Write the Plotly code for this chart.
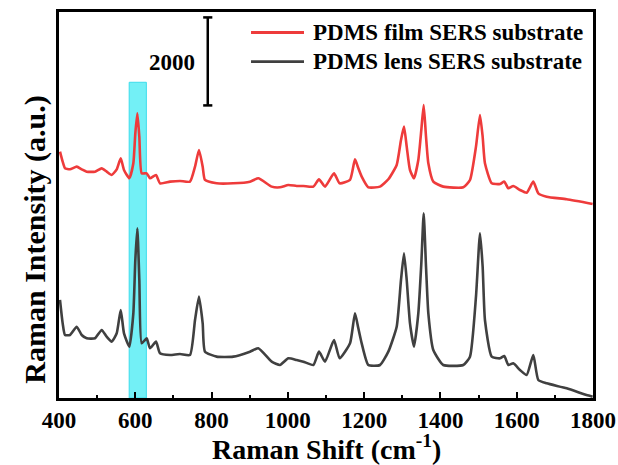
import plotly.graph_objects as go

# ---------------- data ----------------
film_shift = [402.6, 409.6, 415.7, 428.8, 446.4, 459.5, 472.6, 494.4, 511.9, 525.0,
              538.2, 551.3, 561.8, 570.4, 584.4, 594.9, 600.1, 605.4, 610.6, 616.8,
              629.9, 638.6, 654.3, 664.8, 691.0, 717.2, 743.4, 756.6, 767.0, 776.7,
              782.8, 813.4, 857.0, 900.7, 922.5, 957.6, 979.4, 1001.3, 1023.1, 1040.6,
              1066.8, 1081.6, 1097.4, 1121.0, 1135.7, 1163.0, 1176.0, 1184.8, 1193.6, 1211.0,
              1241.6, 1263.4, 1285.3, 1296.6, 1304.5, 1311.6, 1320.2, 1330.7, 1342.0, 1349.9,
              1356.1, 1362.2, 1368.3, 1381.3, 1407.5, 1460.0, 1477.5, 1493.2, 1503.7, 1510.7,
              1516.7, 1534.4, 1556.2, 1567.5, 1577.9, 1591.0, 1608.6, 1626.1, 1643.5, 1656.6,
              1678.5, 1731.0, 1799.0]
film_intensity = [5599, 5371, 5220, 5198, 5258, 5198, 5144, 5144, 5220, 5144,
                  5069, 5198, 5448, 5182, 4993, 5334, 6016, 6471, 5940, 5107,
                  5107, 4993, 5069, 4880, 4917, 4933, 4917, 5258, 5637, 5258,
                  4955, 4880, 4880, 4917, 4993, 4804, 4789, 4842, 4819, 4819,
                  4804, 4971, 4804, 5107, 4880, 4960, 5425, 5220, 5031, 4789,
                  4804, 4971, 5296, 5864, 6168, 5713, 5182, 4993, 5410, 6092,
                  6660, 5940, 5334, 4917, 4804, 4789, 4955, 5713, 6433, 5940,
                  5334, 4880, 4865, 4917, 4766, 4819, 4728, 4667, 4917, 4652,
                  4576, 4516, 4410]

lens_shift = [402.6, 409.6, 415.7, 428.8, 446.4, 459.5, 472.6, 494.4, 511.9, 525.0,
              538.2, 551.3, 561.8, 570.4, 584.4, 594.9, 600.1, 605.4, 610.6, 616.8,
              629.9, 638.6, 654.3, 664.8, 691.0, 717.2, 743.4, 756.6, 767.0, 776.7,
              782.8, 813.4, 857.0, 900.7, 922.5, 957.6, 979.4, 1001.3, 1023.1, 1040.6,
              1066.8, 1081.6, 1097.4, 1121.0, 1135.7, 1163.0, 1176.0, 1184.8, 1193.6, 1211.0,
              1241.6, 1263.4, 1285.3, 1296.6, 1304.5, 1311.6, 1320.2, 1330.7, 1342.0, 1349.9,
              1356.1, 1362.2, 1368.3, 1381.3, 1407.5, 1460.0, 1477.5, 1493.2, 1503.7, 1510.7,
              1516.7, 1534.4, 1556.2, 1567.5, 1577.9, 1591.0, 1608.6, 1626.1, 1643.5, 1656.6,
              1678.5, 1731.0, 1783.0, 1799.0]
lens_intensity = [2228, 1697, 1432, 1432, 1621, 1432, 1357, 1357, 1546, 1394,
                  1281, 1470, 2000, 1470, 1167, 1925, 3137, 3857, 2682, 1243,
                  1357, 1129, 1281, 1015, 977, 1000, 977, 1773, 2303, 1697,
                  1053, 940, 940, 1053, 1129, 826, 750, 902, 864, 826,
                  750, 1053, 826, 1318, 902, 1243, 1925, 1584, 1243, 750,
                  750, 1053, 1621, 2682, 3289, 2682, 1697, 1167, 1925, 3061,
                  4198, 2985, 1925, 1091, 750, 750, 940, 2303, 3743, 2985,
                  1773, 940, 902, 955, 750, 788, 636, 523, 977, 409,
                  333, 220, 68, 30]

series_names = ["PDMS film SERS substrate", "PDMS lens SERS substrate"]
series_colors = ["#EE3B3B", "#404040"]

x_ticks = [400, 600, 800, 1000, 1200, 1400, 1600, 1800]
x_range = [400, 1800]
y_range = [0, 8773]

band_range = [584, 629]   # highlighted band (cm-1)
band_top = 7176
scale_bar_value = 2000
scale_bar_x = 790
scale_bar_bottom = 6650

FONT = "Liberation Serif"

fig = go.Figure()
fig.add_trace(go.Scatter(x=film_shift, y=film_intensity, mode="lines",
                         name=series_names[0], showlegend=False,
                         line=dict(color=series_colors[0], width=2.6, shape="spline", smoothing=0.5)))
fig.add_trace(go.Scatter(x=lens_shift, y=lens_intensity, mode="lines",
                         name=series_names[1], showlegend=False,
                         line=dict(color=series_colors[1], width=2.6, shape="spline", smoothing=0.5)))

shapes = []
# cyan band
shapes.append(dict(type="rect", xref="x", yref="y", x0=band_range[0], x1=band_range[1],
                   y0=y_range[0], y1=band_top, layer="below",
                   fillcolor="rgba(100,238,245,0.9)", line=dict(color="rgba(60,220,235,1)", width=1)))
# scale bar
sb_top = scale_bar_bottom + scale_bar_value
shapes.append(dict(type="line", xref="x", yref="y", x0=scale_bar_x, x1=scale_bar_x,
                   y0=scale_bar_bottom, y1=sb_top, line=dict(color="black", width=2.5)))
for yy in (scale_bar_bottom, sb_top):
    shapes.append(dict(type="line", xref="x", yref="y", x0=scale_bar_x - 12, x1=scale_bar_x + 12,
                       y0=yy, y1=yy, line=dict(color="black", width=2.5)))
# manual legend lines
leg_y = [0.9469, 0.8712]
for c, ly in zip(series_colors, leg_y):
    shapes.append(dict(type="line", xref="paper", yref="paper", x0=0.3596, x1=0.4588,
                       y0=ly, y1=ly, line=dict(color=c, width=2.8)))

annotations = []
for n, ly in zip(series_names, leg_y):
    annotations.append(dict(xref="paper", yref="paper", x=0.4719, y=ly, text=n,
                            showarrow=False, xanchor="left", yanchor="middle",
                            font=dict(family=FONT, size=23, color="black", weight="bold")))
annotations.append(dict(xref="x", yref="y", x=scale_bar_x, y=scale_bar_bottom + scale_bar_value * 0.49,
                        xshift=-11, text=str(scale_bar_value), showarrow=False,
                        xanchor="right", yanchor="middle",
                        font=dict(family=FONT, size=23, color="black", weight="bold")))
annotations.append(dict(xref="paper", yref="paper", x=0.5, y=-0.127,
                        text="Raman Shift (cm<sup>-1</sup>)", showarrow=False,
                        xanchor="center", yanchor="middle",
                        font=dict(family=FONT, size=28, color="black", weight="bold")))
annotations.append(dict(xref="paper", yref="paper", x=-0.045, y=0.41,
                        text="Raman Intensity (a.u.)", showarrow=False, textangle=-90,
                        xanchor="center", yanchor="middle",
                        font=dict(family=FONT, size=30, color="black", weight="bold")))

fig.update_layout(
    width=618, height=465,
    margin=dict(l=59, r=25, t=12, b=67, autoexpand=False),
    paper_bgcolor="white", plot_bgcolor="white",
    shapes=shapes, annotations=annotations,
    showlegend=False,
)
fig.update_xaxes(range=x_range, tickvals=x_ticks, ticks="inside", ticklen=6, tickwidth=2,
                 tickcolor="black", showline=True, linecolor="black", linewidth=2.5,
                 mirror=True, showgrid=False, zeroline=False, automargin=False,
                 tickfont=dict(family=FONT, size=23, color="black", weight="bold"),
                 minor=dict(dtick=100, ticks="inside", ticklen=3, tickwidth=2, tickcolor="black"))
fig.update_yaxes(range=y_range, showticklabels=False, ticks="", showline=True, automargin=False,
                 linecolor="black", linewidth=2.5, mirror=True, showgrid=False, zeroline=False)

fig.write_html("out.html")
